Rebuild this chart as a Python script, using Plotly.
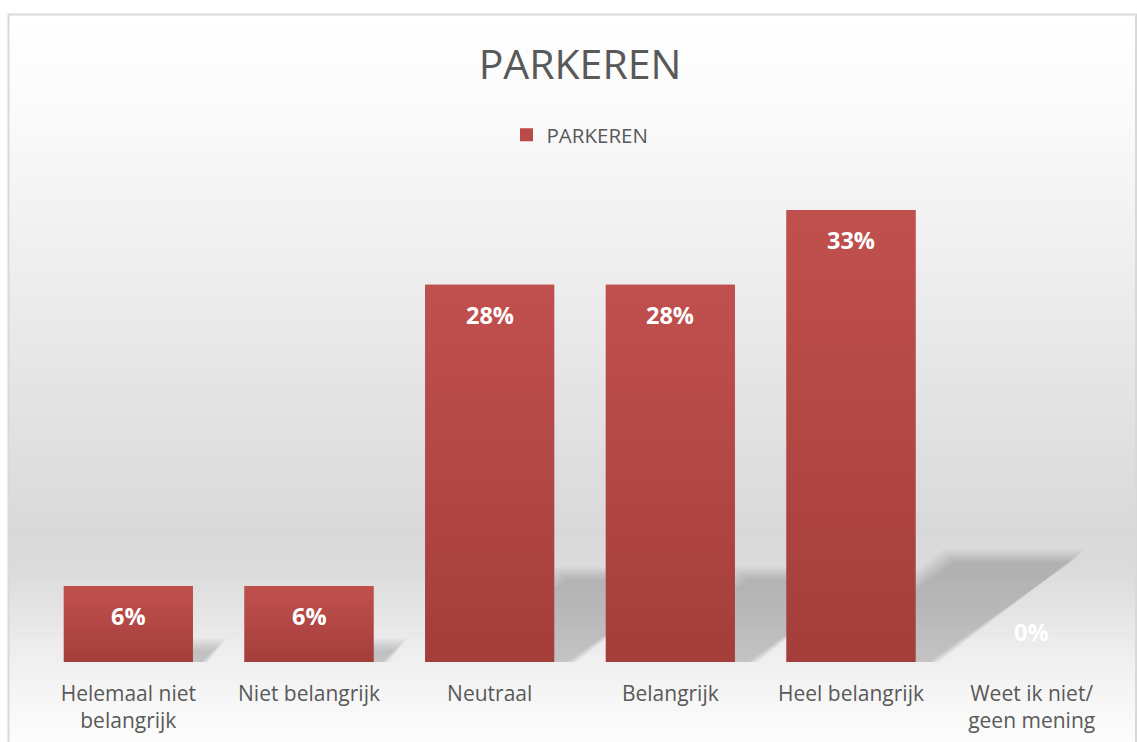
import plotly.graph_objects as go

# ---------------- data ----------------
categories = ["Helemaal niet<br>belangrijk", "Niet belangrijk", "Neutraal",
              "Belangrijk", "Heel belangrijk", "Weet ik niet/<br>geen mening"]
values = [5.6, 5.6, 27.8, 27.8, 33.3, 0.0]          # percentages
series_name = "PARKEREN"
title_text = "PARKEREN"

# ---------------- layout constants ----------------
W, H = 1137, 742
ML, MR, MT, MB = 38, 15, 187, 80
PW, PH = W - ML - MR, H - MT - MB
YMAX = 35
BAR_W = 0.714
TXT = "#595959"
FONT = "Open Sans"

xs = list(range(len(categories)))
labels = [f"{round(v)}%" for v in values]

px_per_cat = PW / len(categories)
px_per_unit = PH / YMAX


def px2paper_x(px):
    return (px - ML) / PW


def px2paper_y(py):
    return (H - MB - py) / PH


fig = go.Figure()

# bars (solid base)
fig.add_trace(go.Bar(
    x=xs, y=values, width=BAR_W, name=series_name,
    marker=dict(color="#b54844", line=dict(width=0)),
    showlegend=False,
    hovertemplate="%{y:.1f}%<extra></extra>",
))

# vertical gradient overlay on each bar, built from the same data
for i, v in zip(xs, values):
    if v <= 0:
        continue
    fig.add_trace(go.Scatter(
        x=[i - BAR_W / 2, i + BAR_W / 2, i + BAR_W / 2, i - BAR_W / 2, i - BAR_W / 2],
        y=[0, 0, v, v, 0],
        mode="lines", line=dict(width=0), fill="toself",
        fillgradient=dict(type="vertical",
                          colorscale=[[0, "#a43e3b"], [1, "#c0504d"]]),
        showlegend=False, hoverinfo="skip",
    ))

# legend entry for the series
fig.add_trace(go.Scatter(
    x=[None], y=[None], mode="markers", name=series_name,
    marker=dict(symbol="square", size=13, color="#b94a46"),
    showlegend=True, hoverinfo="skip",
))

shapes = []

# background gradient (chart area inside border)
stops = [(14, 255), (120, 250), (530, 217), (570, 219), (662, 240), (742, 253)]


def gray_at(py):
    for (y0, g0), (y1, g1) in zip(stops, stops[1:]):
        if y0 <= py <= y1:
            t = (py - y0) / (y1 - y0)
            return g0 + (g1 - g0) * t
    return stops[-1][1]


step = 3
py = 14
while py < H:
    g = int(round(gray_at(py + step / 2)))
    shapes.append(dict(
        type="rect", xref="paper", yref="paper", layer="below",
        x0=px2paper_x(8), x1=px2paper_x(1136),
        y0=px2paper_y(py + step + 0.6), y1=px2paper_y(py),
        line=dict(width=0), fillcolor=f"rgb({g},{g},{g})",
    ))
    py += step

# border
shapes.append(dict(
    type="rect", xref="paper", yref="paper", layer="below",
    x0=px2paper_x(8.5), x1=px2paper_x(1136), y0=px2paper_y(770), y1=px2paper_y(14.5),
    line=dict(color="#d9d9d9", width=2), fillcolor="rgba(0,0,0,0)",
))

# soft perspective shadows derived from the bar values
for i, v in zip(xs, values):
    if v <= 0:
        continue
    h_px = v * px_per_unit
    hs = 0.235 * h_px / px_per_unit
    s = 0.36 * h_px / px_per_cat
    for d_px in [-6, -4, -2, 0, 2, 4, 6]:
        dx = d_px / px_per_cat
        dy = d_px / px_per_unit
        L = i - BAR_W / 2 - dx
        R = i + BAR_W / 2 + dx
        top = hs + dy
        path = (f"M {L},{-1} L {R},{-1} L {R + s},{top} L {L + s},{top} Z")
        shapes.append(dict(
            type="path", xref="x", yref="y", layer="below", path=path,
            line=dict(width=0), fillcolor="rgba(0,0,0,0.028)",
        ))

# data labels
annotations = []
for i, v, lab in zip(xs, values, labels):
    if v > 0:
        annotations.append(dict(x=i, y=v, xref="x", yref="y", text=lab,
                                showarrow=False, yanchor="top", yshift=-12,
                                font=dict(family=FONT, size=23.5, color="white",
                                          weight="bold")))
    else:
        annotations.append(dict(x=i, y=v, xref="x", yref="y", text=lab,
                                showarrow=False, yanchor="bottom", yshift=12,
                                font=dict(family=FONT, size=23.5, color="white",
                                          weight="bold")))

fig.update_layout(
    width=W, height=H,
    margin=dict(l=ML, r=MR, t=MT, b=MB),
    paper_bgcolor="white",
    plot_bgcolor="rgba(0,0,0,0)",
    title=dict(text=title_text, x=0.5, xref="paper", xanchor="center",
               y=1 - 65 / H, yref="container", yanchor="middle",
               font=dict(family=FONT, size=41, color=TXT)),
    legend=dict(orientation="h", x=0.5, xanchor="center",
                y=px2paper_y(135), yanchor="middle",
                font=dict(family=FONT, size=20.5, color=TXT),
                bgcolor="rgba(0,0,0,0)"),
    xaxis=dict(range=[-0.5, len(categories) - 0.5], tickvals=xs, ticktext=categories,
               showgrid=False, zeroline=False, showline=False, ticks="",
               ticklabelstandoff=17, automargin=False,
               tickfont=dict(family=FONT, size=21, color=TXT), fixedrange=True),
    yaxis=dict(range=[0, YMAX], visible=False, fixedrange=True, automargin=False),
    shapes=shapes,
    annotations=annotations,
    bargap=0.286,
)

fig.write_html("out.html", config={"displayModeBar": False},
               post_script="document.body.style.margin='0';")
